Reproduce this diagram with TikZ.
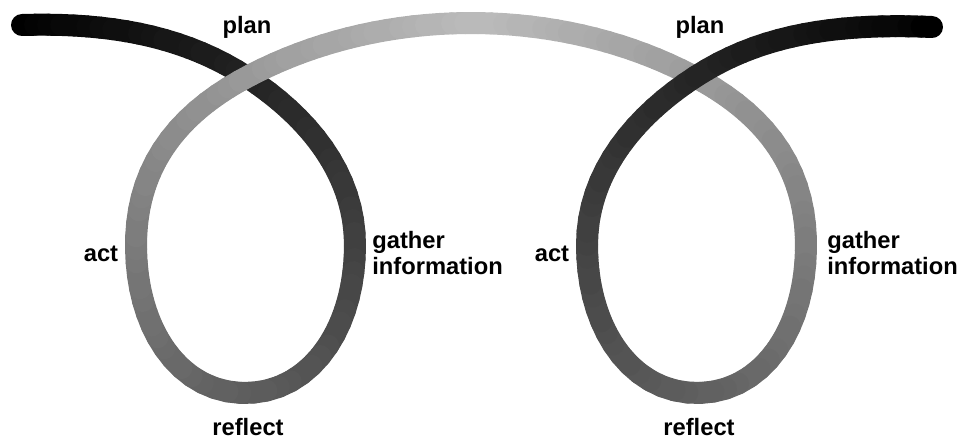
\documentclass[tikz,border=0pt]{standalone}
\usepackage{fontspec}
\setmainfont{Liberation Sans}
\usetikzlibrary{decorations.markings}

\begin{document}
\begin{tikzpicture}[
    x=0.02cm, y=-0.02cm,
    word/.style={font=\fontsize{13.5}{15}\selectfont\bfseries, inner sep=0pt},
    ribbon/.style={line width=0.44cm, line cap=round}
]
    \useasboundingbox (0,0) rectangle (961,440);

    % centre line of the ribbon, marked every half percent
    \path[decorate, decoration={markings,
        mark=between positions 0 and 1 step 0.005 with
        {\coordinate (p\pgfkeysvalueof{/pgf/decoration/mark info/sequence number});}}]
        (22,25) .. controls (120,22) and (190,40) .. (247,77)
        .. controls (310,118) and (355,175) .. (355,245)
        .. controls (355,330) and (310,393) .. (245,393)
        .. controls (180,393) and (136,330) .. (136,245)
        .. controls (136,160) and (185,110) .. (247,77)
        .. controls (320,38) and (400,23) .. (471,23)
        .. controls (542,23) and (622,38) .. (695,77)
        .. controls (757,110) and (806,160) .. (806,245)
        .. controls (806,330) and (762,393) .. (697,393)
        .. controls (632,393) and (587,330) .. (587,245)
        .. controls (587,175) and (632,118) .. (695,77)
        .. controls (752,40) and (822,22) .. (932,27);
    \coordinate (tip) at (932,27);

    % dark at both ends, light in the middle
    \foreach \i in {1,...,199} {
        \pgfmathtruncatemacro{\j}{\i+1}
        \pgfmathtruncatemacro{\shade}{100-73*(1-abs(2*(\i-1)/200-1))}
        \draw[ribbon, black!\shade] (p\i) -- (p\j);
    }
    \draw[ribbon, black] (p200) -- (tip);

    \node[word] (plan1) at (247,27) {plan};
    \node[word] (plan2) at (700,27) {plan};
    \node[word] (act1) at (101,254) {act};
    \node[word] (act2) at (552,254) {act};
    \node[word, anchor=west, align=left] (gather1) at (372,253) {gather\\information};
    \node[word, anchor=west, align=left] (gather2) at (827,253) {gather\\information};
    \node[word] (reflect1) at (248,427) {reflect};
    \node[word] (reflect2) at (699,427) {reflect};
\end{tikzpicture}
\end{document}
